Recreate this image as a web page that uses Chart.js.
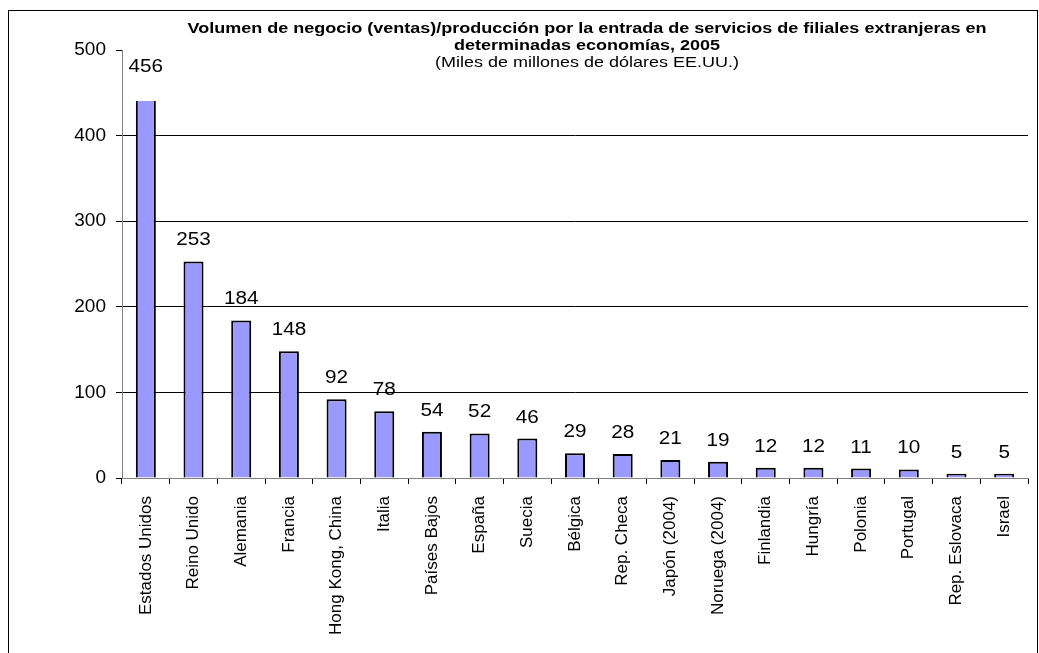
<!DOCTYPE html>
<html>
<head>
<meta charset="utf-8">
<script src="https://cdn.jsdelivr.net/npm/chart.js@4"></script>
<style>
  html, body { margin: 0; padding: 0; background: #fff; }
  #wrap { width: 1039px; height: 653px; }
</style>
</head>
<body>
<div id="wrap"><canvas id="chart" width="1039" height="653"></canvas></div>
<script>
// Datos
const paises = ['Estados Unidos', 'Reino Unido', 'Alemania', 'Francia', 'Hong Kong, China', 'Italia',
  'Países Bajos', 'España', 'Suecia', 'Bélgica', 'Rep. Checa', 'Japón (2004)', 'Noruega (2004)',
  'Finlandia', 'Hungría', 'Polonia', 'Portugal', 'Rep. Eslovaca', 'Israel'];
const ventas = [456, 253, 184, 148, 92, 78, 54, 52, 46, 29, 28, 21, 19, 12, 12, 11, 10, 5, 5];
const ejeY = [0, 100, 200, 300, 400, 500];

const tituloLineas = [
  'Volumen de negocio (ventas)/producción por la entrada de servicios de filiales extranjeras en',
  'determinadas economías, 2005'
];
const subtitulo = '(Miles de millones de dólares EE.UU.)';

const FONT = '"Liberation Sans", Arial, sans-serif';

// texto algo ensanchado, como en el original
function textoAncho(ctx, txt, x, y, sx) {
  ctx.save();
  ctx.translate(x, y);
  ctx.scale(sx, 1);
  ctx.fillText(txt, 0, 0);
  ctx.restore();
}

// Marco exterior
const marco = {
  id: 'marco',
  beforeDraw(chart) {
    const ctx = chart.ctx;
    ctx.save();
    ctx.strokeStyle = '#000';
    ctx.lineWidth = 1;
    ctx.strokeRect(8.5, 10.5, 1029, 700);
    ctx.restore();
  }
};

// Caja del título (fondo blanco que tapa la parte alta del área de trazado)
const titulo = {
  id: 'titulo',
  afterDatasetsDraw(chart) {
    const ctx = chart.ctx;
    const cx = 587;
    ctx.save();
    ctx.fillStyle = '#fff';
    ctx.fillRect(123, 11, 912, 90);
    ctx.fillStyle = '#000';
    ctx.textAlign = 'center';
    ctx.textBaseline = 'middle';
    ctx.font = 'bold 15px ' + FONT;
    textoAncho(ctx, tituloLineas[0], cx, 29, 1.2);
    textoAncho(ctx, tituloLineas[1], cx, 46, 1.2);
    ctx.font = '15px ' + FONT;
    textoAncho(ctx, subtitulo, cx, 63, 1.2);
    ctx.restore();
  }
};

// Etiquetas de valor encima de las barras
const etiquetas = {
  id: 'etiquetas',
  afterDraw(chart) {
    const ctx = chart.ctx;
    const meta = chart.getDatasetMeta(0);
    ctx.save();
    ctx.fillStyle = '#000';
    ctx.font = '18px ' + FONT;
    ctx.textAlign = 'center';
    ctx.textBaseline = 'middle';
    meta.data.forEach((bar, i) => {
      textoAncho(ctx, String(ventas[i]), bar.x, bar.y - 21, 1.15);
    });
    ctx.restore();
  }
};

new Chart(document.getElementById('chart'), {
  type: 'bar',
  data: {
    labels: paises,
    datasets: [{
      data: ventas,
      backgroundColor: '#9999FF',
      borderColor: '#000',
      borderWidth: 2,
      borderSkipped: 'bottom',
      categoryPercentage: 1,
      barPercentage: 0.42
    }]
  },
  options: {
    responsive: false,
    animation: false,
    layout: { padding: { left: 0, right: 11, top: 50, bottom: 0 } },
    plugins: {
      legend: { display: false },
      tooltip: { enabled: false }
    },
    scales: {
      x: {
        grid: { offset: true, drawOnChartArea: false, color: '#000', tickLength: 6 },
        border: { color: '#808080' },
        ticks: {
          color: '#000',
          font: { family: FONT, size: 17 },
          maxRotation: 90,
          minRotation: 90,
          padding: 12,
          autoSkip: false
        },
        afterFit(scale) { scale.height = 175; }
      },
      y: {
        min: ejeY[0],
        max: ejeY[ejeY.length - 1],
        grid: { color: '#000', tickLength: 6 },
        border: { color: '#808080' },
        afterBuildTicks(scale) { scale.ticks = ejeY.map(v => ({ value: v })); },
        ticks: {
          color: '#000',
          font: { family: FONT, size: 19 },
          padding: 10
        },
        afterFit(scale) { scale.width = 122; }
      }
    }
  },
  plugins: [marco, titulo, etiquetas]
});
</script>
</body>
</html>
